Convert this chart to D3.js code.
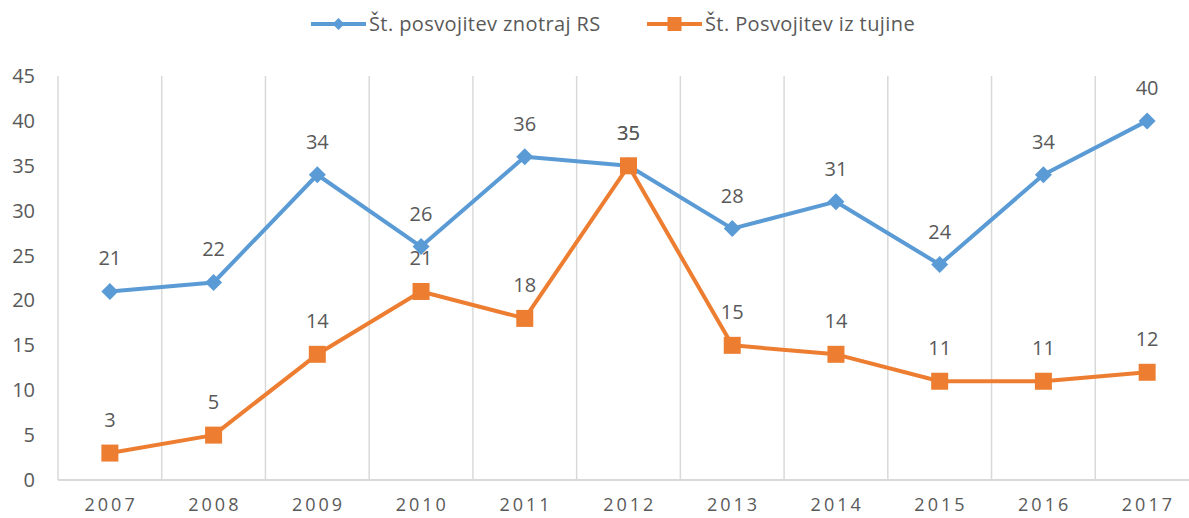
<!DOCTYPE html>
<html>
<head>
<meta charset="utf-8">
<script src="https://cdn.jsdelivr.net/npm/d3@7"></script>
<style>
    body { margin: 0; background: #fff; }
    text { font-family: "Open Sans", sans-serif; fill: #595959; }
    .grid line { stroke: #d9d9d9; stroke-width: 1.5; }
    .line { fill: none; stroke-width: 4; stroke-linejoin: round; }
</style>
</head>
<body>
<div id="chart"></div>
<script>
// data
var years = ["2007", "2008", "2009", "2010", "2011", "2012", "2013", "2014", "2015", "2016", "2017"];
var znotrajRS = [21, 22, 34, 26, 36, 35, 28, 31, 24, 34, 40];
var izTujine = [3, 5, 14, 21, 18, 35, 15, 14, 11, 11, 12];
var yTicks = [0, 5, 10, 15, 20, 25, 30, 35, 40, 45];
var seriesNames = ["Št. posvojitev znotraj RS", "Št. Posvojitev iz tujine"];

var width = 1189, height = 518;
var margin = { top: 76, right: -10, bottom: 38, left: 58 };

var svg = d3.select("#chart")
    .append("svg")
    .attr("width", width)
    .attr("height", height);

var x = d3.scaleBand()
    .domain(years)
    .range([margin.left, width - margin.right]);

var y = d3.scaleLinear()
    .domain([0, 45])
    .range([height - margin.bottom, margin.top]);

// vertical gridlines at category boundaries
svg.append("g")
    .attr("class", "grid")
    .selectAll("line")
    .data(d3.range(years.length + 1))
    .enter()
    .append("line")
    .attr("x1", function (i) { return margin.left + i * x.step(); })
    .attr("x2", function (i) { return margin.left + i * x.step(); })
    .attr("y1", y(45))
    .attr("y2", y(0));

// x axis line
svg.append("line")
    .attr("x1", x.range()[0])
    .attr("x2", x.range()[1])
    .attr("y1", y(0))
    .attr("y2", y(0))
    .style("stroke", "#d9d9d9")
    .style("stroke-width", 2);

// y tick labels
svg.append("g")
    .selectAll("text")
    .data(yTicks)
    .enter()
    .append("text")
    .attr("x", 35)
    .attr("y", function (d) { return y(d) + 7; })
    .attr("text-anchor", "end")
    .style("font-size", "20px")
    .text(function (d) { return d; });

// x tick labels
svg.append("g")
    .selectAll("text")
    .data(years)
    .enter()
    .append("text")
    .attr("x", function (d) { return x(d) + x.bandwidth() / 2 + 1.25; })
    .attr("y", 511)
    .attr("text-anchor", "middle")
    .style("font-size", "18px")
    .style("letter-spacing", "3px")
    .text(function (d) { return d; });

var cx = function (i) { return x(years[i]) + x.bandwidth() / 2; };

function drawSeries(values, color, symbol, size) {
    svg.append("path")
        .datum(values)
        .attr("class", "line")
        .style("stroke", color)
        .attr("d", d3.line()
            .x(function (d, i) { return cx(i); })
            .y(function (d) { return y(d); }));

    svg.append("g")
        .selectAll("path")
        .data(values)
        .enter()
        .append("path")
        .attr("d", d3.symbol().type(symbol).size(size))
        .attr("transform", function (d, i) { return "translate(" + cx(i) + "," + y(d) + ")"; })
        .style("fill", color);
}

function drawLabels(values) {
    svg.append("g")
        .selectAll("text")
        .data(values)
        .enter()
        .append("text")
        .attr("x", function (d, i) { return cx(i); })
        .attr("y", function (d) { return y(d) - 26; })
        .attr("text-anchor", "middle")
        .style("font-size", "20px")
        .text(function (d) { return d; });
}

var diamond = {
    draw: function (ctx, s) {
        var r = Math.sqrt(s) / 2;
        ctx.moveTo(0, -r); ctx.lineTo(r, 0); ctx.lineTo(0, r); ctx.lineTo(-r, 0); ctx.closePath();
    }
};

drawSeries(znotrajRS, "#5b9bd5", diamond, 17 * 17);
drawSeries(izTujine, "#ed7d31", d3.symbolSquare, 17 * 17);
drawLabels(znotrajRS);
drawLabels(izTujine);

// legend
var legend = [
    { name: seriesNames[0], color: "#5b9bd5", symbol: diamond, size: 12 * 12, x: 311 },
    { name: seriesNames[1], color: "#ed7d31", symbol: d3.symbolSquare, size: 14 * 14, x: 647 }
];
var lg = svg.append("g")
    .selectAll("g")
    .data(legend)
    .enter()
    .append("g")
    .attr("transform", function (d) { return "translate(" + d.x + ",24)"; });
lg.append("line")
    .attr("x1", 0).attr("x2", 55)
    .attr("y1", 0).attr("y2", 0)
    .style("stroke", function (d) { return d.color; })
    .style("stroke-width", 4);
lg.append("path")
    .attr("transform", "translate(27.5,0)")
    .attr("d", function (d) { return d3.symbol().type(d.symbol).size(d.size)(); })
    .style("fill", function (d) { return d.color; });
lg.append("text")
    .attr("x", 58)
    .attr("y", 7)
    .style("font-size", "20px")
    .style("letter-spacing", "0.4px")
    .text(function (d) { return d.name; });
</script>
</body>
</html>
